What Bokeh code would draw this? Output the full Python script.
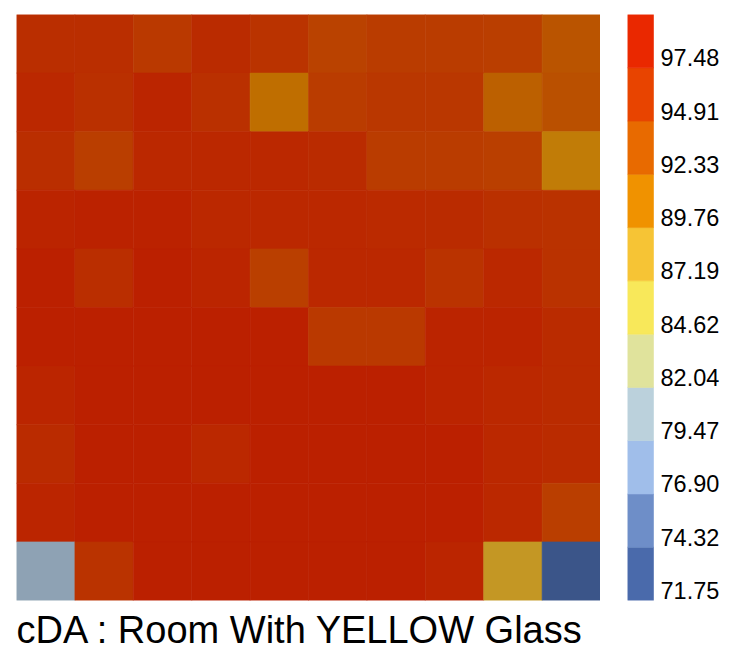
import numpy as np
from bokeh.plotting import figure
from bokeh.layouts import row
from bokeh.models import ColumnDataSource, LinearColorMapper, Range1d
from bokeh.transform import transform
from bokeh.core.properties import value
from bokeh.embed import file_html
from bokeh.resources import INLINE

title_text = "cDA : Room With YELLOW Glass"
vmin = 71.75
vmax = 97.48
legend_colors = ["#4A6AAB", "#6E8EC8", "#A0BEEA", "#BBD1DC", "#E0E39C", "#F8E85A",
                 "#F6C435", "#F09200", "#E86A00", "#E84400", "#EA2800"]
legend_labels = ["71.75", "74.32", "76.90", "79.47", "82.04", "84.62",
                 "87.19", "89.76", "92.33", "94.91", "97.48"]
shade = 0.8  # cells are rendered darker than the legend swatches

# grid values, top row first, left column first
row_0 = [95.87, 95.87, 94.60, 96.09, 95.19, 93.93, 94.44, 94.44, 94.26, 92.41]
row_1 = [96.56, 95.65, 96.79, 95.65, 90.30, 94.44, 94.78, 94.78, 91.38, 92.75]
row_2 = [95.87, 94.26, 96.56, 96.56, 96.56, 96.09, 94.44, 94.44, 94.08, 89.25]
row_3 = [97.02, 97.25, 97.25, 96.56, 96.56, 96.56, 96.32, 96.09, 95.65, 95.42]
row_4 = [97.48, 95.87, 97.48, 96.79, 94.08, 96.56, 96.56, 95.19, 96.56, 95.42]
row_5 = [97.48, 97.48, 97.48, 97.48, 97.48, 94.60, 94.60, 97.02, 97.02, 96.09]
row_6 = [96.79, 97.48, 97.48, 97.48, 97.48, 97.48, 97.48, 97.02, 96.56, 96.09]
row_7 = [96.09, 97.48, 97.48, 96.56, 97.48, 97.48, 97.48, 97.48, 96.56, 96.09]
row_8 = [96.79, 97.48, 97.48, 97.48, 97.48, 97.48, 97.48, 97.48, 96.56, 94.26]
row_9 = [78.60, 95.19, 97.48, 97.48, 97.48, 97.48, 97.48, 96.79, 87.57, 71.75]
grid_rows = [row_0, row_1, row_2, row_3, row_4, row_5, row_6, row_7, row_8, row_9]

# ---- palette for the cells (continuous gradient through the legend colours)
def hex2rgb(h):
    return [int(h[i:i + 2], 16) for i in (1, 3, 5)]

stops = np.array([hex2rgb(c) for c in legend_colors], float)
pos = np.linspace(0, 1, len(stops))
tt = np.linspace(0, 1, 256)
cols = np.stack([np.interp(tt, pos, stops[:, k]) for k in range(3)], 1) * shade
cell_palette = ["#%02x%02x%02x" % tuple(int(round(v)) for v in c) for c in cols]
mapper = LinearColorMapper(palette=cell_palette, low=vmin, high=vmax)

nrows = len(grid_rows)
ncols = len(grid_rows[0])
xs, ys, vs = [], [], []
for r, vals in enumerate(grid_rows):
    for c, v in enumerate(vals):
        xs.append(c + 0.5)
        ys.append(nrows - r - 0.5)
        vs.append(v)
src = ColumnDataSource(dict(x=xs, y=ys, v=vs))

p = figure(width=600, height=656, output_backend="svg", toolbar_location=None,
           x_range=Range1d(0, ncols), y_range=Range1d(0, nrows),
           x_axis_location=None, y_axis_location=None,
           title=title_text, title_location="below")
p.min_border = 0
p.min_border_left = 16
p.min_border_top = 14
p.min_border_right = 0
p.outline_line_color = None
p.grid.visible = False
p.title.text_font = "Liberation Sans"
p.title.text_font_size = "38px"
p.title.text_font_style = "normal"
p.title.text_color = "black"
p.title.align = "left"
p.title.standoff = 12
p.rect(x="x", y="y", width=1, height=1, source=src,
       fill_color=transform("v", mapper), line_color=transform("v", mapper),
       line_width=0.6)

# ---- legend
nseg = len(legend_colors)
step = (vmax - vmin) / (nseg - 1)
bottoms = [vmin + step * i for i in range(nseg)]
tops = [b + step for b in bottoms]
leg_src = ColumnDataSource(dict(bottom=bottoms, top=tops, color=legend_colors,
                                label=legend_labels))

p2 = figure(width=129, height=656, output_backend="svg", toolbar_location=None,
            x_range=Range1d(0, 102), y_range=Range1d(vmin, vmin + step * nseg),
            x_axis_location=None, y_axis_location=None)
p2.min_border = 0
p2.min_border_left = 27
p2.min_border_top = 14
p2.min_border_bottom = 56
p2.outline_line_color = None
p2.grid.visible = False
p2.quad(left=0, right=26, bottom="bottom", top="top", source=leg_src,
        fill_color="color", line_color="color", line_width=0.6)
p2.text(x=33, y="bottom", text="label", source=leg_src,
        text_font=value("Liberation Sans"), text_font_size="23.5px",
        text_baseline="middle", text_align="left", text_color="black",
        y_offset=-10)

layout = row(p, p2)
open("out.html", "w").write(file_html(layout, INLINE))
